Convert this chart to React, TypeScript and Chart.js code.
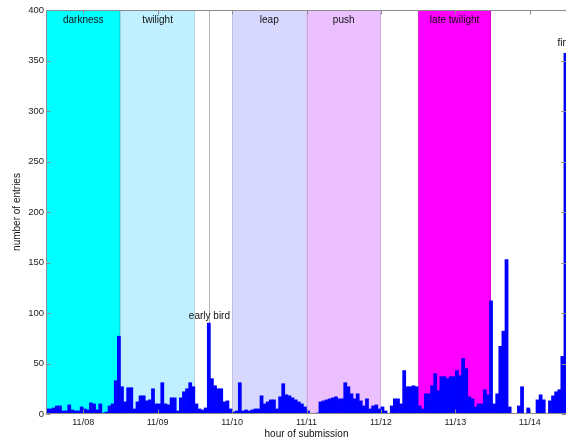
import React, { useEffect, useRef } from 'react';
import { Chart, registerables } from 'chart.js';

Chart.register(...registerables);

// hourly number of entries, starting 11/07 12:00
const hourlyEntries = [
  5, 5, 6, 8, 8, 3, 3, 9, 4, 3,
  3, 7, 5, 4, 11, 10, 4, 10, 1, 2,
  8, 10, 33, 77, 27, 12, 26, 26, 5, 12,
  18, 18, 13, 14, 25, 10, 10, 31, 10, 9,
  16, 16, 3, 16, 22, 25, 31, 27, 10, 5,
  4, 6, 90, 35, 28, 25, 25, 12, 13, 5,
  2, 3, 31, 3, 4, 3, 4, 5, 5, 18,
  10, 12, 14, 14, 5, 17, 30, 19, 18, 16,
  14, 12, 10, 7, 3, 0, 0, 1, 12, 13,
  14, 15, 16, 17, 15, 15, 31, 27, 20, 15,
  20, 13, 8, 15, 5, 8, 9, 5, 7, 3,
  0, 8, 15, 15, 10, 43, 27, 27, 28, 27,
  8, 5, 20, 20, 28, 40, 23, 37, 37, 35,
  37, 37, 43, 38, 55, 45, 17, 15, 7, 10,
  10, 24, 19, 112, 10, 20, 67, 82, 153, 7,
  0, 0, 8, 27, 0, 6, 0, 0, 14, 19,
  14, 0, 13, 18, 22, 24, 57, 357,
];

const totalHours = 168;
const dayTickHours = [12, 36, 60, 84, 108, 132, 156];
const dayTickLabels = ['11/08', '11/09', '11/10', '11/11', '11/12', '11/13', '11/14'];
const yMax = 400;
const yStep = 50;

const phaseNames = ['darkness', 'twilight', 'leap', 'push', 'late twilight'];
const phaseStarts = [0, 24, 60, 84, 120];
const phaseEnds = [24, 48, 84, 108, 143.5];
const phaseColors = ['#00ffff', '#c0f0ff', '#d8d8ff', '#ecc0ff', '#ff00ff'];
const phaseLabelValue = 390;

const earlyBirdHour = 52.7;
const earlyBirdLabelValue = 97;
const finHour = 166.6;
const finLabelValue = 367;

const FONT = 'Arial, "Liberation Sans", Helvetica, sans-serif';

const overlayPlugin = {
  id: 'overlay',
  beforeDatasetsDraw(chart: any) {
    const { ctx, chartArea, scales } = chart;
    const xs = scales.x;
    ctx.save();
    for (let i = 0; i < phaseNames.length; i++) {
      const x0 = xs.getPixelForValue(phaseStarts[i]);
      const x1 = xs.getPixelForValue(phaseEnds[i]);
      ctx.fillStyle = phaseColors[i];
      ctx.fillRect(x0, chartArea.top, x1 - x0, chartArea.bottom - chartArea.top);
      ctx.strokeStyle = 'rgba(0,0,0,0.12)';
      ctx.lineWidth = 1;
      ctx.beginPath();
      ctx.moveTo(Math.round(x0) + 0.5, chartArea.top);
      ctx.lineTo(Math.round(x0) + 0.5, chartArea.bottom);
      ctx.moveTo(Math.round(x1) - 0.5, chartArea.top);
      ctx.lineTo(Math.round(x1) - 0.5, chartArea.bottom);
      ctx.stroke();
    }
    const xe = Math.round(xs.getPixelForValue(earlyBirdHour)) + 0.5;
    ctx.strokeStyle = '#b4b4b4';
    ctx.beginPath();
    ctx.moveTo(xe, chartArea.top);
    ctx.lineTo(xe, chartArea.bottom);
    ctx.stroke();
    ctx.restore();
  },
  afterDatasetsDraw(chart: any) {
    const { ctx, chartArea, scales } = chart;
    const xs = scales.x;
    const ys = scales.y;
    ctx.save();
    ctx.strokeStyle = '#8c8c8c';
    ctx.lineWidth = 1;
    const L = Math.round(chartArea.left) + 0.5;
    const R = Math.round(chartArea.right) - 0.5;
    const T = Math.round(chartArea.top) + 0.5;
    const B = Math.round(chartArea.bottom) - 0.5;
    ctx.beginPath();
    ctx.moveTo(L, B);
    ctx.lineTo(L, T);
    ctx.lineTo(R, T);
    ctx.lineTo(R, B);
    ctx.lineTo(L, B);
    ctx.stroke();
    ctx.beginPath();
    for (let v = 0; v <= yMax; v += yStep) {
      const y = Math.round(ys.getPixelForValue(v)) + 0.5;
      ctx.moveTo(L, y); ctx.lineTo(L + 4, y);
      ctx.moveTo(R, y); ctx.lineTo(R - 5, y);
    }
    for (const h of dayTickHours) {
      const x = Math.round(xs.getPixelForValue(h)) + 0.5;
      ctx.moveTo(x, T); ctx.lineTo(x, T + 4);
      ctx.moveTo(x, B); ctx.lineTo(x, B - 4);
    }
    ctx.stroke();
    ctx.fillStyle = '#111';
    ctx.font = `10px ${FONT}`;
    ctx.textAlign = 'center';
    ctx.textBaseline = 'middle';
    for (let i = 0; i < phaseNames.length; i++) {
      const xm = xs.getPixelForValue((phaseStarts[i] + phaseEnds[i]) / 2);
      ctx.fillText(phaseNames[i], xm, ys.getPixelForValue(phaseLabelValue));
    }
    ctx.fillText('early bird', xs.getPixelForValue(earlyBirdHour), ys.getPixelForValue(earlyBirdLabelValue));
    ctx.fillText('fin', xs.getPixelForValue(finHour), ys.getPixelForValue(finLabelValue));
    ctx.restore();
  },
};

export default function App() {
  const canvasRef = useRef<HTMLCanvasElement | null>(null);

  useEffect(() => {
    const canvas = canvasRef.current;
    if (!canvas) return;
    const chart = new Chart(canvas, {
      type: 'bar',
      data: {
        datasets: [
          {
            label: 'entries',
            data: hourlyEntries.map((v, h) => ({ x: h + 0.5, y: v })),
            backgroundColor: '#0000ff',
            borderWidth: 0,
            barPercentage: 1,
            categoryPercentage: 1,
            grouped: false,
          } as any,
        ],
      },
      options: {
        animation: false,
        responsive: false,
        devicePixelRatio: 1,
        layout: { padding: { top: 10, right: 3, left: 0, bottom: 0 } },
        plugins: { legend: { display: false }, tooltip: { enabled: false } },
        scales: {
          x: {
            type: 'linear',
            min: 0,
            max: totalHours,
            offset: false,
            grid: { display: false, drawTicks: false },
            border: { display: false },
            afterBuildTicks: (scale: any) => {
              scale.ticks = dayTickHours.map((h) => ({ value: h }));
            },
            afterFit: (scale: any) => {
              scale.height = 26;
            },
            ticks: {
              autoSkip: false,
              maxRotation: 0,
              padding: 3,
              color: '#222',
              font: { family: FONT, size: 9 },
              callback: (value: any) => {
                const i = dayTickHours.indexOf(Number(value));
                return i >= 0 ? dayTickLabels[i] : '';
              },
            },
            title: {
              display: true,
              text: 'hour of submission',
              color: '#111',
              font: { family: FONT, size: 10 },
              padding: { top: 0, bottom: 0 },
            },
          },
          y: {
            type: 'linear',
            min: 0,
            max: yMax,
            grid: { display: false, drawTicks: false },
            border: { display: false },
            afterFit: (scale: any) => {
              scale.width = 46;
            },
            ticks: {
              stepSize: yStep,
              padding: 2,
              color: '#222',
              font: { family: FONT, size: 9.5 },
            },
            title: {
              display: true,
              text: 'number of entries',
              color: '#111',
              font: { family: FONT, size: 10 },
              padding: { top: 11, bottom: 0 },
            },
          },
        },
      },
      plugins: [overlayPlugin],
    });
    return () => chart.destroy();
  }, []);

  return (
    <div
      style={{
        position: 'fixed',
        left: 0,
        top: 0,
        width: 566,
        height: 440,
        overflow: 'hidden',
        background: '#fff',
      }}
    >
      <canvas ref={canvasRef} width={570} height={440} style={{ display: 'block' }} />
    </div>
  );
}
